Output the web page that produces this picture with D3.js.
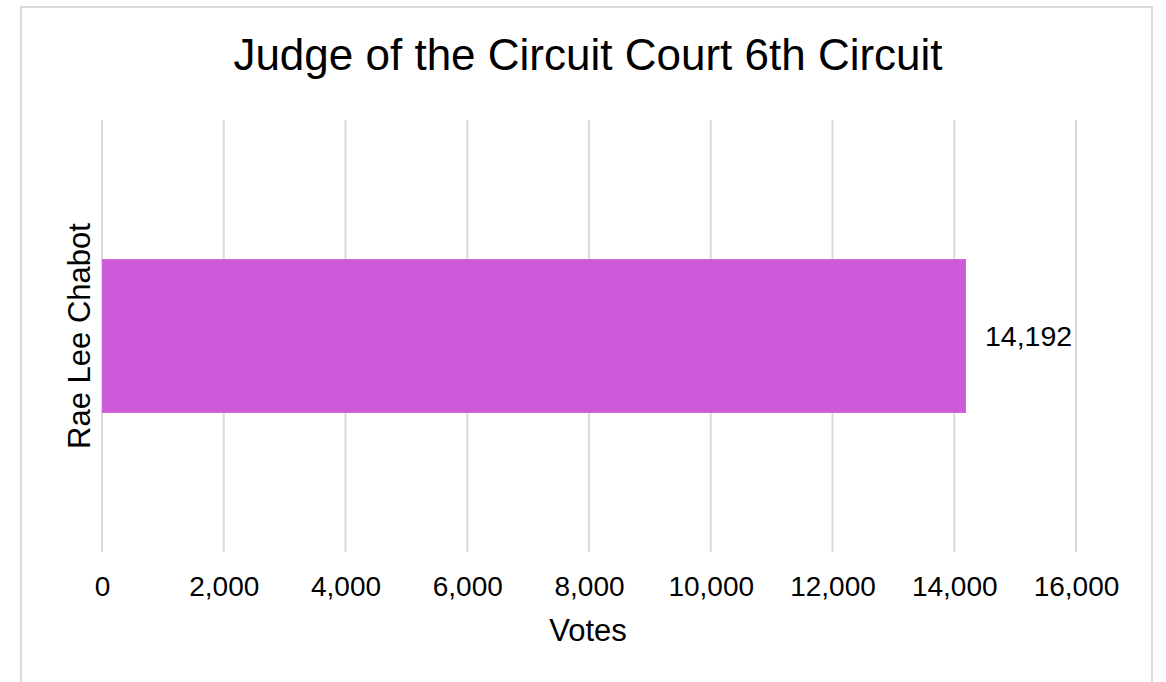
<!DOCTYPE html>
<html lang="en">
<head>
    <meta charset="UTF-8">
    <title>Judge of the Circuit Court 6th Circuit</title>
    <script src="https://d3js.org/d3.v7.min.js"></script>
    <style>
        body {
            margin: 0;
            background: #fff;
            font-family: Arial, "Liberation Sans", sans-serif;
        }
    </style>
</head>
<body>
    <div id="chart"></div>

    <script>
        // Data
        const candidates = ['Rae Lee Chabot'];
        const votes = [14192];
        const xTicks = [0, 2000, 4000, 6000, 8000, 10000, 12000, 14000, 16000];

        const width = 1166, height = 682;
        const margin = { top: 120, right: 90, bottom: 130, left: 102 };
        const plotW = 1076 - margin.left;
        const plotH = 552 - margin.top;

        const svg = d3.select("#chart")
            .append("svg")
            .attr("width", width)
            .attr("height", height);

        // outer frame
        svg.append("rect")
            .attr("x", 21).attr("y", 7)
            .attr("width", 1131).attr("height", 700)
            .attr("fill", "#fff")
            .attr("stroke", "#dadada")
            .attr("stroke-width", 2);

        svg.append("text")
            .attr("x", 588)
            .attr("y", 70)
            .attr("text-anchor", "middle")
            .attr("font-size", 44)
            .attr("fill", "#000")
            .text("Judge of the Circuit Court 6th Circuit");

        const g = svg.append("g")
            .attr("transform", `translate(${margin.left},${margin.top})`);

        const x = d3.scaleLinear()
            .domain([0, 16000])
            .range([0, plotW]);

        const y = d3.scaleBand()
            .domain(candidates)
            .range([0, plotH])
            .paddingInner(0.475)
            .paddingOuter(0.475);

        // gridlines
        g.append("g")
            .selectAll("line")
            .data(xTicks)
            .join("line")
            .attr("x1", d => x(d))
            .attr("x2", d => x(d))
            .attr("y1", 0)
            .attr("y2", plotH)
            .attr("stroke", "#dadada")
            .attr("stroke-width", 2);

        // x axis labels
        const xAxis = g.append("g")
            .attr("transform", `translate(0,${plotH})`)
            .call(d3.axisBottom(x).tickValues(xTicks).tickFormat(d3.format(",")).tickSize(0).tickPadding(24));
        xAxis.select(".domain").remove();
        xAxis.selectAll("text")
            .attr("font-size", 28)
            .attr("font-family", "Arial, 'Liberation Sans', sans-serif")
            .attr("fill", "#000");

        // bars
        g.selectAll(".bar")
            .data(candidates)
            .join("rect")
            .attr("class", "bar")
            .attr("x", x(0))
            .attr("y", d => y(d))
            .attr("width", (d, i) => x(votes[i]) - x(0))
            .attr("height", y.bandwidth())
            .attr("fill", "#cd5bd9");

        // value labels
        g.selectAll(".val")
            .data(candidates)
            .join("text")
            .attr("class", "val")
            .attr("x", (d, i) => x(votes[i]) + 19)
            .attr("y", d => y(d) + y.bandwidth() / 2)
            .attr("dy", "0.35em")
            .attr("font-size", 28.5)
            .attr("fill", "#000")
            .text((d, i) => d3.format(",")(votes[i]));

        // category label (rotated)
        g.selectAll(".cat")
            .data(candidates)
            .join("text")
            .attr("class", "cat")
            .attr("transform", d => `translate(-12,${y(d) + y.bandwidth() / 2}) rotate(-90)`)
            .attr("text-anchor", "middle")
            .attr("font-size", 31)
            .attr("fill", "#000")
            .text(d => d);

        // axis title
        svg.append("text")
            .attr("x", 588)
            .attr("y", 641)
            .attr("text-anchor", "middle")
            .attr("font-size", 31)
            .attr("fill", "#000")
            .text("Votes");
    </script>
</body>
</html>
